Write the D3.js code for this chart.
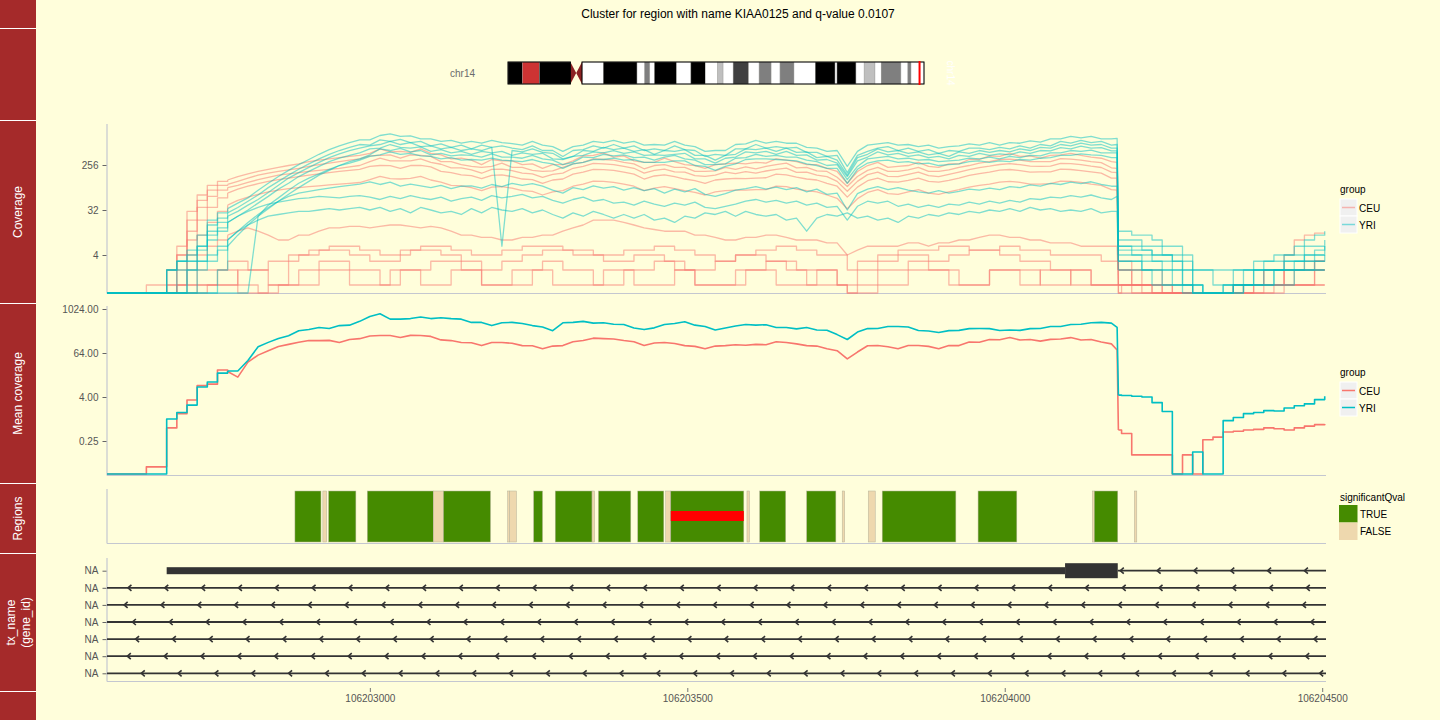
<!DOCTYPE html>
<html><head><meta charset="utf-8">
<script src="https://cdn.jsdelivr.net/npm/d3@7"></script>
<style>
body{margin:0;background:#fffedb;}
text{font-family:"Liberation Sans",Arial,Helvetica,sans-serif;}
</style>
</head><body><svg id="c" width="1440" height="720"></svg>
<script>
// ---------------- DATA ----------------
const titleText = "Cluster for region with name KIAA0125 and q-value 0.0107";
const chromName = "chr14";
const xDomain = [106202586, 106204506];
const xTicks = [106203000, 106203500, 106204000, 106204500];
const covTicks = [4, 32, 256];
const meanTicks = [0.25, 4, 64, 1024];
const groups = ["CEU", "YRI"];
const groupColors = ["#F8766D", "#00BFC4"];

// ideogram bands (hg19 chr14)
const bandStart = [0,3700000,8100000,16100000,17600000,19100000,24600000,33300000,35300000,36600000,37800000,43500000,47200000,50900000,54100000,55500000,58100000,62100000,64800000,67900000,70200000,73800000,79300000,84400000,84900000,89800000,91900000,94700000,96300000,101400000,103200000,104000000];
const bandEnd = [3700000,8100000,16100000,17600000,19100000,24600000,33300000,35300000,36600000,37800000,43500000,47200000,50900000,54100000,55500000,58100000,62100000,64800000,67900000,70200000,73800000,79300000,84400000,84900000,89800000,91900000,94700000,96300000,101400000,103200000,104000000,107349540];
const bandStain = ["gvar","stalk","gvar","acen","acen","gneg","gpos100","gneg","gpos50","gneg","gpos100","gneg","gpos100","gneg","gpos25","gneg","gpos75","gneg","gpos50","gneg","gpos50","gneg","gpos100","gneg","gpos100","gneg","gpos25","gneg","gpos50","gneg","gpos50","gneg"];

// genomic positions shared by coverage and mean-coverage series
const covPos = [106202584,106202600,106202616,106202632,106202648,106202664,106202680,106202696,106202712,106202728,
106202744,106202760,106202776,106202792,106202808,106202824,106202840,106202856,106202872,106202888,
106202904,106202920,106202936,106202952,106202968,106202984,106203000,106203016,106203032,106203048,
106203064,106203080,106203096,106203112,106203128,106203144,106203160,106203176,106203192,106203208,
106203224,106203240,106203256,106203272,106203288,106203304,106203320,106203336,106203352,106203368,
106203384,106203400,106203416,106203432,106203448,106203464,106203480,106203496,106203512,106203528,
106203544,106203560,106203576,106203592,106203608,106203624,106203640,106203656,106203672,106203688,
106203704,106203720,106203736,106203752,106203768,106203784,106203800,106203816,106203832,106203848,
106203864,106203880,106203896,106203912,106203928,106203944,106203960,106203976,106203992,106204008,
106204024,106204040,106204056,106204072,106204088,106204104,106204120,106204136,106204152,106204168,
106204177,106204179,
106204184,106204200,106204216,106204232,106204248,106204264,106204280,106204296,106204312,106204328,
106204344,106204360,106204376,106204392,106204408,106204424,106204440,106204456,106204472,106204488,106204504];

// per-sample coverage (CEU)
const covCEU1 = [0,0,0,0,0,0,2,6,30,64,100,120,128,150,170,190,210,230,250,270,300,320,340,360,380,400,
440,540,470,480,460,540,440,410,340,350, 320,260,330,310,310,260,270,220,260,260, 310,390,400,450,370,390,310,290,290,350, 300,260,250,220,260,270,280,270,290,280, 340,320,300,260,260,220,190,110,190,250, 290,230,240,250,290,240,230,270,270,330, 330,390,380,440,380,390,350,400,410,440, 400,370,350,300,
290, 3,3,2,2,2,1,1,1,0,0,0,0,1,1,1,2,2,2,2,3,3,3];
const covCEU2 = [0,0,0,0,0,0,2,4,20,50,80,100,104,120,140,160,175,190,205,220,240,260,280,300,320,340,
390,400,410,350,410,400,380,300,300,260, 240,230,240,280,230,230,200,190,195,230, 270,290,340,330,320,290,270,215,250,260, 230,230,190,190,195,230,210,235,215,240, 260,280,225,230,195,190,145,95,150,200, 230,190,190,205,230,190,190,205,230,250, 280,300,330,335,320,300,300,300,345,335, 320,300,285,225,
220, 2,2,2,1,1,1,0,0,0,0,0,0,0,1,1,1,1,2,2,2,3,3];
const covCEU3 = [0,0,0,0,0,0,1,4,12,36,60,80,90,100,115,130,145,160,170,180,190,200,210,220,235,250,
300,350,310,310,310,340,290,265,225,225, 205,175,210,212,198,176,170,145,166,176, 220,240,275,270,260,240,220,176,200,212, 186,184,156,152,160,184,172,188,176,194, 210,222,182,184,160,150,120,76,120,164, 184,152,150,166,184,156,150,166,184,206, 226,242,262,272,260,242,240,244,276,274, 260,242,228,184,
180, 2,2,1,1,1,1,0,0,0,0,0,0,0,0,1,1,1,1,2,2,2,2];
const covCEU4 = [0,0,0,0,0,0,0,2,8,20,36,56,70,84,96,108,120,130,140,150,160,170,180,190,200,210,
240,250,248,220,250,252,234,190,180,162, 156,136,158,162,150,134,130,110,128,134, 168,184,210,206,200,184,168,134,154,162, 150,134,124,110,128,134,138,136,140,142, 168,162,146,134,128,110,96,58,92,124, 140,118,116,126,140,120,116,126,140,158, 172,184,202,208,198,184,186,186,212,208, 198,186,176,140,
140, 2,2,1,1,1,0,0,0,0,0,0,0,0,0,0,1,1,1,1,1,2,2];
const covCEU5 = [0,0,0,0,0,0,0,1,4,10,18,30,40,50,58,66,74,80,86,90,94,98,102,106,110,114,
130,152,136,134,138,152,128,116,100,98, 90,78,92,94,88,78,76,64,74,78, 96,106,122,120,115,106,96,78,88,94, 86,78,72,64,74,78,80,80,82,82, 96,94,84,78,74,64,55,34,54,72, 82,68,66,74,82,70,66,74,82,92, 100,106,116,120,115,106,106,108,122,120, 115,106,100,82,
80, 1,1,1,1,0,0,0,0,0,0,0,0,0,0,0,0,0,1,1,1,1,1];
const covCEU6 = [0,0,0,0,0,0,0,1,2,4, 6,8,10,12,14,12,10,8,8,10, 10,12,14,14,15,15,14,15,16,16, 15,14,15,14,12,10,10,9,9,8, 8,9,9,10,10,12,14,16,20,20, 20,18,16,14,13,12,12,12,10,10, 9,8,8,9,9,10,10,9,8,8, 8,7,7,4,5,6,6,6,6,7, 7,6,7,7,8,8,9,10,10,9, 9,8,8,7,7,7,6,6,6,6,
6, 1,1,1,1,0,0,0,0,0,0,0,0,1,1,1,2,2,4,8,10,11,11];
const covCEU7 = [0,0,0,0,1,1,1,1,1,2, 2,2,3,3,2,2,1,1,1,2, 2,3,3,3,2,2,2,1,1,2, 2,2,3,3,3,2,2,1,1,1, 2,2,2,3,3,2,2,2,1,1, 1,2,2,2,3,3,2,2,1,1, 1,1,2,2,2,3,3,2,2,1, 1,1,1,0,1,1,2,2,2,3, 3,2,2,2,1,1,1,2,2,2, 2,2,1,1,1,2,2,1,1,1,
1, 1,1,0,0,0,0,0,0,0,0,0,0,0,0,1,1,1,1,1,1,2,2];
const covCEU8 = [0,0,0,0,0,0,0,0,1,1, 1,2,2,1,1,0,1,1,3,4, 4,5,5,5,4,4,3,3,3,4, 5,5,5,4,4,3,3,2,2,3, 3,4,4,5,5,5,4,4,4,3, 3,3,4,4,4,3,3,2,2,2, 3,3,4,4,4,3,3,3,2,2, 2,2,1,1,2,2,3,3,4,4, 4,3,3,4,4,5,5,5,4,4, 3,3,3,2,2,2,2,1,1,1,
1, 0,1,1,0,0,0,0,0,0,0,0,0,0,1,1,1,1,2,2,2,3,3];
const covCEU9 = [0,0,0,0,0,0,0,0,0,1, 1,1,1,0,0,0,0,1,1,1, 1,2,2,2,1,1,1,1,2,2, 2,1,1,1,2,2,2,1,1,1, 1,1,2,2,1,1,1,1,1,2, 2,2,1,1,1,1,2,2,1,1, 1,1,1,2,2,2,1,1,1,1, 2,2,1,0,0,0,1,1,1,2, 2,2,2,1,1,1,1,2,2,2, 1,1,2,2,2,1,1,1,1,1,
1, 0,0,0,0,0,0,0,0,0,0,0,0,0,0,0,0,1,1,1,1,1,1];
const covCEU10 = [0,0,0,0,0,0,0,0,0,0, 1,1,1,2,2,2,3,3,4,4, 5,5,6,6,6,5,5,4,4,5, 5,6,6,6,5,5,4,4,4,5, 5,6,6,6,6,5,5,5,4,4, 4,5,5,5,6,6,5,5,4,4, 3,3,4,4,5,5,6,6,5,5, 4,4,4,2,3,3,4,4,5,5, 5,5,6,6,6,5,5,5,6,6, 5,5,5,4,4,4,4,4,3,3,
3, 1,1,1,1,1,0,0,0,0,0,0,0,1,1,1,1,1,2,2,2,2,2];

// per-sample coverage (YRI)
const covYRI1 = [0,0,0,0,0,0,2,3,5,10, 20,28,34,44,56,80,110,150,200,260,330,420,520,620,720,820,
820,1000,1080,960,980,860,860,760,800,700, 760,700,800,720,690,640,760,640,600,480, 600,640,760,720,800,700,760,640,660,640, 760,640,600,480,500,500,660,680,800,700, 760,700,700,580,560,480,500,240,480,640, 680,720,640,660,600,640,560,600,620,680, 640,720,640,720,700,780,740,860,860,960, 900,960,860,860,
880, 12,12,10,10,8,6,6,4,2,2,1,1,2,2,3,3,4,4,6,8,10,12];
const covYRI2 = [0,0,0,0,0,0,2,3,3,6, 16,22,28,36,48,64,90,120,160,210,270,340,420,500,580,660,
640,820,760,840,720,760,620,680,580,640, 540,640,580,620,560,520,620,500,500,380, 500,520,620,560,660,560,620,500,540,500, 620,520,500,380,420,400,540,540,660,560, 600,560,580,460,460,380,400,180,400,480, 560,600,500,560,480,520,440,500,480,560, 560,520,580,540,620,560,660,620,760,700, 800,720,760,640,
660, 8,8,8,6,6,4,4,3,1,0,0,1,1,2,2,3,3,4,4,6,6,8];
const covYRI3 = [0,0,0,0,0,0,0,2,3,5, 12,18,24,30,40,52,72,100,140,180,230,290,360,430,500,560,
620,660,760,660,720,600,620,540,580,500, 540,500,580,6,500,470,540,460,440,340, 380,500,480,580,520,560,480,520,420,500, 480,520,400,400,320,400,420,540,520,560, 480,560,460,470,360,380,320,160,360,420, 540,470,500,440,470,410,440,380,470,440, 500,460,500,470,540,500,580,560,660,620, 700,640,660,560,
560, 6,6,5,5,4,4,3,2,1,0,0,0,1,1,2,2,2,3,3,4,4,6];
const covYRI4 = [0,0,0,0,0,0,0,0,2,3, 8,12,18,24,32,44,60,84,110,150,190,240,300,350,400,450,
540,560,660,580,560,590,480,520,450,480, 420,480,450,480,400,450,420,440,340,330, 380,400,470,450,500,440,470,400,410,400, 420,440,340,340,280,350,370,470,450,480, 420,480,400,410,320,330,280,150,310,370, 470,410,440,380,410,360,380,340,400,380, 440,400,430,410,470,440,500,490,570,540, 610,560,570,490,
490, 4,4,4,3,3,2,2,1,0,0,0,0,0,1,1,1,2,2,2,3,3,4];
const covYRI5 = [0,0,0,0,0,0,0,0,0,0, 0,2,6,10,16,24,34,48,66,90,120,160,200,250,300,340,
410,540,500,550,470,500,410,440,390,410, 400,370,430,370,370,350,400,340,320,260, 290,370,360,420,390,410,360,370,320,370, 400,340,320,260,260,270,350,360,420,380, 400,370,370,320,300,250,260,130,240,340, 360,380,340,350,320,330,300,310,320,350, 340,370,340,380,360,400,390,450,450,500, 480,510,450,450,
450, 3,3,3,2,2,2,1,1,0,0,0,1,1,1,1,2,2,2,3,3,4,4];
const covYRI6 = [0,0,0,0,0,0,0,0,0,0, 0,0,0,0,0,24,40,56,80,110,140,170,210,250,280,320,
380,410,470,420,440,390,380,340,360,320, 330,320,350,320,310,300,330,290,270,220, 270,290,330,330,350,320,330,290,290,290, 310,310,250,240,200,240,270,330,340,340, 330,320,310,270,250,220,220,110,210,280, 310,320,290,300,270,280,250,260,270,300, 310,290,310,300,330,320,350,360,400,400, 430,410,400,360,
360, 5,5,4,4,3,3,2,1,1,0,0,0,1,1,2,2,2,3,3,4,5,6];
const covYRI7 = [0,0,0,0,0,0,2,3,4,6, 10,14,18,24,30,36,42,46,50,54,56,60,58,56,60,62,
58,52,60,54,62,56,52,58,48,54, 58,50,62,56,60,66,56,60,50,44, 52,58,48,52,44,46,40,48,42,38, 44,40,46,36,34,38,42,48,52,46, 50,44,48,40,44,36,38,20,38,48, 44,48,38,42,36,40,36,42,40,46, 42,48,44,50,46,54,52,58,56,62, 58,64,56,52,
60, 3,3,3,2,2,1,1,1,0,0,0,0,1,1,1,1,2,2,2,2,3,3];
const covYRI8 = [0,0,0,0,0,0,0,0,2,3, 4,6,8,12,16,20,24,26,28,30,30,32,34,32,34,36,
32,36,30,34,28,36,32,28,30,26, 34,28,36,32,30,34,28,32,26,22, 28,24,30,26,22,26,22,26,20,22, 18,24,22,28,26,30,24,30,26,24, 26,20,22,12,22,26,24,28,22,24, 20,22,18,24,22,26,24,28,26,30, 28,32,30,34,30,36,32,34,30,32, 30,34,28,30,
30, 2,2,2,2,1,1,1,0,0,0,0,0,0,1,1,1,1,1,2,2,2,2];
const covYRI9 = [0,0,0,0,0,0,0,0,0,2, 3,5,8,12,18,26,36,48,60,70,76,82,88,94,100,106,
118,104,116,96,106,98,90,100,86,96, 98,88,104,94,110,100,108,96,80,70, 90,82,98,88,94,80,90,78,86,70, 84,74,86,66,60,68,80,86,94,84, 92,82,90,74,84,66,70,32,68,84, 94,82,90,80,74,70,78,70,76,84, 80,88,82,94,90,102,96,110,104,116, 108,118,104,96,
96, 6,6,6,5,4,4,3,2,2,2,2,2,2,2,2,2,2,2,2,2,2,2];

// mean coverage per group (same positions)
const meanCEU = [0,0,0,0,0.049,0.049,0.57,1.4,3.3,8.2, 9,22,20,14,36,56,74,96,110,126,
140,140,142,124,150,158,186,192,192,170, 194,192,182,146,140,124,122,102,124,124, 118,102,101,84,99,102,130,140,163,158, 155,140,130,103,120,124,116,102,97,84, 99,102,108,104,110,108,130,124,114,102, 99,84,74,44,68,101,103,95,84,103, 103,97,84,103,102,128,126,150,147,169, 145,150,135,151,155,169,145,150,128,114,
77,0.5, 0.4,0.104,0.104,0.104,0.104,0,0.104,0,0.27,0.32,0.44,0.46,0.5,0.52,0.57,0.54,0.5,0.57,0.64,0.7,0.73];
const meanYRI = [0,0,0,0,0,0,1.0,1.5,2.4,7.5, 10.3,18,20.5,20.5,40,95,125,160,190,260,
280,320,300,360,370,470,640,760,540,540, 560,620,560,590,560,540,440,440,360,430, 440,410,360,330,262,430,440,470,420,430, 390,385,310,280,312,385,410,460,370,340, 272,310,350,385,370,380,320,318,292,318, 272,268,204,150,240,298,300,340,340,330, 265,256,234,262,266,298,300,298,265,272, 266,298,300,340,340,385,390,430,440,420,
320,4.5, 4.4,4.2,4.0,2.8,1.6,0,0,0.125,0,0,0.9,1.1,1.4,1.5,1.7,1.65,2.0,2.3,2.6,3.4,4.2];

// candidate regions
const regStart = [106202882,106202926,106202935,106202996,106203100,106203116,106203217,106203220,106203258,106203292,106203350,106203360,106203422,106203466,106203474,106203594,106203614,106203688,106203744,106203785,106203807,106203958,106204138,106204141,106204204];
const regEnd   = [106202923,106202932,106202978,106203100,106203116,106203190,106203220,106203231,106203272,106203350,106203354,106203411,106203463,106203474,106203589,106203598,106203655,106203734,106203748,106203796,106203923,106204019,106204141,106204178,106204208];
const regSig   = [true,false,true,true,false,true,false,false,true,true,false,true,true,false,true,false,true,true,false,false,true,true,false,true,false];
const sigLevels = ["TRUE","FALSE"];
const sigColors = ["#458B00","#EED8AE"];
const highlight = [106203474, 106203589];

// transcripts
const txLabels = ["NA","NA","NA","NA","NA","NA","NA"];
const txUtr = [[106202680,106204095]];
const txCds = [[106204095,106204178]];
const txGapStart = [106204178,106202000,106202000,106202000,106202000,106202000,106202000];
const txGapEnd   = [106205000,106205000,106205000,106205000,106205000,106205000,106205000];
const txArrowFirst = [106204182,106202619,106202613,106202626,106202631,106202618,106202640];
const txArrowStep = 58;

// ---------------- DRAW ----------------
const svg = d3.select("#c");
const W = 1440, H = 720, BG = "#fffedb";
svg.append("rect").attr("width", W).attr("height", H).attr("fill", BG);

const PL = 107, PR = 1326;
const P = {
  cov:  {top: 124, bottom: 293, strip: [121, 303], label: "Coverage"},
  mean: {top: 306, bottom: 475, strip: [304, 483], label: "Mean coverage"},
  reg:  {top: 489, bottom: 543, strip: [484, 553], label: "Regions"},
  tx:   {top: 558, bottom: 681, strip: [554, 691], label: "tx_name\n(gene_id)"}
};
const AXC = "#c4c7d0", TXTC = "#555555";

svg.append("rect").attr("x", 0).attr("y", 0).attr("width", 36).attr("height", H).attr("fill", "#A52A2A");
[28.5, 120.5, 303.5, 483.5, 553.5, 691.5].forEach(y =>
  svg.append("line").attr("x1", 0).attr("x2", 36).attr("y1", y).attr("y2", y).attr("stroke", "#fff").attr("stroke-width", 1.2));
Object.values(P).forEach(p => {
  const cy = (p.strip[0] + p.strip[1]) / 2;
  const lines = p.label.split("\n");
  const t = svg.append("text").attr("transform", `translate(18,${cy}) rotate(-90)`)
    .attr("text-anchor", "middle").attr("fill", "#fff").attr("font-size", 12);
  lines.forEach((l, i) => t.append("tspan").attr("x", 0)
    .attr("y", (i - (lines.length - 1) / 2) * 15 + 4).text(l));
});

svg.append("text").attr("x", 738).attr("y", 18).attr("text-anchor", "middle")
  .attr("font-size", 12).attr("fill", "#000").text(titleText);

svg.append("clipPath").attr("id", "clipX").append("rect")
  .attr("x", PL).attr("y", 0).attr("width", PR - PL).attr("height", H);

const x = d3.scaleLinear().domain(xDomain).range([PL, PR]);

// ---------- ideogram ----------
const ig = svg.append("g");
const chrLen = bandEnd[bandEnd.length - 1];
const xi = d3.scaleLinear().domain([0, chrLen]).range([508, 924]);
const stainCol = {gneg: "#FFFFFF", gpos25: "#BFBFBF", gpos50: "#7F7F7F", gpos75: "#404040",
  gpos100: "#000000", gvar: "#000000", stalk: "#CD3333", acen: "#8B2323"};
const iT = 62, iB = 84, iM = 73;
bandStart.forEach((s, i) => {
  const st = bandStain[i];
  if (st === "acen") return;
  ig.append("rect").attr("x", xi(s)).attr("y", iT).attr("width", xi(bandEnd[i]) - xi(s))
    .attr("height", iB - iT).attr("fill", stainCol[st]).attr("stroke", "#999").attr("stroke-width", 0.4);
});
const acenIdx = bandStain.map((s, i) => s === "acen" ? i : -1).filter(i => i >= 0);
const pa = acenIdx[0], qa = acenIdx[1];
ig.append("path").attr("d", `M${xi(bandStart[pa])},${iT}L${xi(bandEnd[pa])},${iM}L${xi(bandStart[pa])},${iB}Z`).attr("fill", stainCol.acen);
ig.append("path").attr("d", `M${xi(bandEnd[qa])},${iT}L${xi(bandStart[qa])},${iM}L${xi(bandEnd[qa])},${iB}Z`).attr("fill", stainCol.acen);
ig.append("rect").attr("x", xi(0)).attr("y", iT).attr("width", xi(bandStart[pa]) - xi(0)).attr("height", iB - iT)
  .attr("fill", "none").attr("stroke", "#000").attr("stroke-width", 1);
ig.append("rect").attr("x", xi(bandEnd[qa])).attr("y", iT).attr("width", xi(chrLen) - xi(bandEnd[qa])).attr("height", iB - iT)
  .attr("fill", "none").attr("stroke", "#000").attr("stroke-width", 1);
const hx = xi((xDomain[0] + xDomain[1]) / 2);
ig.append("rect").attr("x", hx - 1).attr("y", iT - 1).attr("width", 2).attr("height", iB - iT + 2).attr("fill", "#FF0000");
ig.append("text").attr("x", 475).attr("y", iM + 3.5).attr("text-anchor", "end").attr("font-size", 10)
  .attr("fill", "#6b6b6b").text(chromName);
ig.append("text").attr("transform", `translate(947,${iM}) rotate(90)`).attr("text-anchor", "middle")
  .attr("font-size", 10).attr("fill", "#ffffff").text(chromName);

// ---------- panel axes ----------
function panelFrame(p) {
  svg.append("line").attr("x1", PL).attr("x2", PL).attr("y1", p.top).attr("y2", p.bottom + 0.5)
    .attr("stroke", AXC).attr("stroke-width", 1.2);
  svg.append("line").attr("x1", PL).attr("x2", PR).attr("y1", p.bottom + 0.5).attr("y2", p.bottom + 0.5)
    .attr("stroke", AXC).attr("stroke-width", 1.2);
}
function yAxis(scale, ticks, fmt) {
  const g = svg.append("g").attr("transform", `translate(${PL - 0.5},0)`)
    .call(d3.axisLeft(scale).tickValues(ticks).tickSize(4).tickPadding(4).tickFormat(fmt));
  g.select(".domain").remove();
  g.selectAll("line").attr("stroke", "#666");
  g.selectAll("text").attr("fill", TXTC).attr("font-size", 10)
    .attr("font-family", '"Liberation Sans",Arial,sans-serif');
}
// ramp and tail drawn as steps (coverage is a step function), body as a line
const segs = [[0, 12, d3.curveStepAfter], [12, 101, d3.curveLinear], [101, covPos.length - 1, d3.curveStepAfter]];
function segPath(vals, yfn, allStep) {
  const pts = vals.map((v, i) => [x(covPos[i]), yfn(v)]);
  const parts = allStep ? [[0, pts.length - 1, d3.curveStepAfter]] : segs;
  return parts.map(([a, b, cv]) => d3.line().curve(cv)(pts.slice(a, b + 1))).join("");
}

// ---------- coverage ----------
panelFrame(P.cov);
const covY = d3.scaleLog().base(2).domain([4, 256]).range([255, 165]);
const covYv = v => v > 0 ? covY(v) : P.cov.bottom;
yAxis(covY, covTicks, d3.format("d"));
const covSamples = [
  {g: 0, v: covCEU1}, {g: 0, v: covCEU2}, {g: 0, v: covCEU3}, {g: 0, v: covCEU4}, {g: 0, v: covCEU5},
  {g: 0, v: covCEU6}, {g: 0, v: covCEU7, step: true}, {g: 0, v: covCEU8, step: true},
  {g: 0, v: covCEU9, step: true}, {g: 0, v: covCEU10, step: true},
  {g: 1, v: covYRI1}, {g: 1, v: covYRI2}, {g: 1, v: covYRI3}, {g: 1, v: covYRI4}, {g: 1, v: covYRI5},
  {g: 1, v: covYRI6}, {g: 1, v: covYRI7}, {g: 1, v: covYRI8}, {g: 1, v: covYRI9}
];
const cg = svg.append("g").attr("clip-path", "url(#clipX)");
covSamples.forEach(s => {
  cg.append("path").attr("d", segPath(s.v, covYv, s.step)).attr("fill", "none")
    .attr("stroke", groupColors[s.g]).attr("stroke-opacity", 0.5).attr("stroke-width", 1.3)
    .attr("stroke-linejoin", "round");
});

// ---------- mean coverage ----------
panelFrame(P.mean);
const meanY = d3.scaleLog().base(2).domain([0.25, 1024]).range([441, 309]);
const meanYv = v => v > 0 ? meanY(v) : P.mean.bottom - 1;
yAxis(meanY, meanTicks, d3.format(".2f"));
const mg = svg.append("g").attr("clip-path", "url(#clipX)");
[[meanCEU, 0], [meanYRI, 1]].forEach(([val, gi]) => {
  mg.append("path").attr("d", segPath(val, meanYv, false)).attr("fill", "none")
    .attr("stroke", groupColors[gi]).attr("stroke-width", 1.6).attr("stroke-linejoin", "round");
});

// ---------- regions ----------
panelFrame(P.reg);
const rg = svg.append("g").attr("clip-path", "url(#clipX)");
const rT = 491, rB = 542;
regStart.forEach((s, i) => {
  rg.append("rect").attr("x", x(s)).attr("y", rT).attr("width", Math.max(1, x(regEnd[i]) - x(s)))
    .attr("height", rB - rT).attr("fill", sigColors[regSig[i] ? 0 : 1])
    .attr("stroke", "#b5b29a").attr("stroke-width", 0.5);
});
rg.append("rect").attr("x", x(highlight[0])).attr("y", 511).attr("width", x(highlight[1]) - x(highlight[0]))
  .attr("height", 10).attr("fill", "#FF0000");

// ---------- transcripts ----------
panelFrame(P.tx);
const ty = d3.scalePoint().domain(d3.range(txLabels.length)).range([570.7, 673.3]);
const tg = svg.append("g").attr("clip-path", "url(#clipX)");
const TC = "#333333";
txGapStart.forEach((s, i) => {
  const yy = ty(i);
  tg.append("line").attr("x1", x(s)).attr("x2", x(txGapEnd[i])).attr("y1", yy).attr("y2", yy)
    .attr("stroke", TC).attr("stroke-width", 1.8);
  for (let p = txArrowFirst[i]; p < txGapEnd[i] && x(p) <= PR; p += txArrowStep) {
    const ax = x(p);
    tg.append("path").attr("d", `M${ax + 3.5},${yy - 3}L${ax},${yy}L${ax + 3.5},${yy + 3}`)
      .attr("fill", "none").attr("stroke", TC).attr("stroke-width", 1.6);
  }
});
txUtr.forEach(([s, e]) => tg.append("rect").attr("x", x(s)).attr("y", ty(0) - 3.5)
  .attr("width", x(e) - x(s)).attr("height", 7).attr("fill", TC));
txCds.forEach(([s, e]) => tg.append("rect").attr("x", x(s)).attr("y", ty(0) - 7.5)
  .attr("width", x(e) - x(s)).attr("height", 15).attr("fill", TC));
const tyAx = svg.append("g").attr("transform", `translate(${PL - 0.5},0)`)
  .call(d3.axisLeft(ty).tickSize(4).tickPadding(4).tickFormat(i => txLabels[i]));
tyAx.select(".domain").remove();
tyAx.selectAll("line").attr("stroke", "#666");
tyAx.selectAll("text").attr("fill", TXTC).attr("font-size", 10)
  .attr("font-family", '"Liberation Sans",Arial,sans-serif');

// ---------- x axis ----------
const xa = svg.append("g").attr("transform", `translate(0,688)`)
  .call(d3.axisBottom(x).tickValues(xTicks).tickSize(4).tickPadding(3).tickFormat(d3.format("d")));
xa.select(".domain").remove();
xa.selectAll("line").attr("stroke", "#777");
xa.selectAll("text").attr("fill", TXTC).attr("font-size", 10)
  .attr("font-family", '"Liberation Sans",Arial,sans-serif');

// ---------- legends ----------
function groupLegend(top, alpha) {
  const g = svg.append("g");
  g.append("text").attr("x", 1340).attr("y", top).attr("font-size", 10).attr("fill", "#000").text("group");
  groups.forEach((gname, i) => {
    const ky = top + 6 + i * 17;
    g.append("rect").attr("x", 1340).attr("y", ky).attr("width", 17).attr("height", 17)
      .attr("fill", "#F0F0F0").attr("stroke", "#fff").attr("stroke-width", 1);
    g.append("line").attr("x1", 1342).attr("x2", 1355).attr("y1", ky + 8.5).attr("y2", ky + 8.5)
      .attr("stroke", groupColors[i]).attr("stroke-opacity", alpha).attr("stroke-width", 1.5);
    g.append("text").attr("x", 1359).attr("y", ky + 12.5).attr("font-size", 10).attr("fill", "#000").text(gname);
  });
}
groupLegend(193, 0.5);
groupLegend(376, 1);
(function () {
  const g = svg.append("g"), top = 501;
  g.append("text").attr("x", 1340).attr("y", top).attr("font-size", 10).attr("fill", "#000").text("significantQval");
  sigLevels.forEach((lv, i) => {
    const ky = top + 4 + i * 17.5;
    g.append("rect").attr("x", 1339).attr("y", ky).attr("width", 18.5).attr("height", 17.5).attr("fill", sigColors[i]);
    g.append("text").attr("x", 1360).attr("y", ky + 12.5).attr("font-size", 10).attr("fill", "#000").text(lv);
  });
})();
</script>
</body></html>
